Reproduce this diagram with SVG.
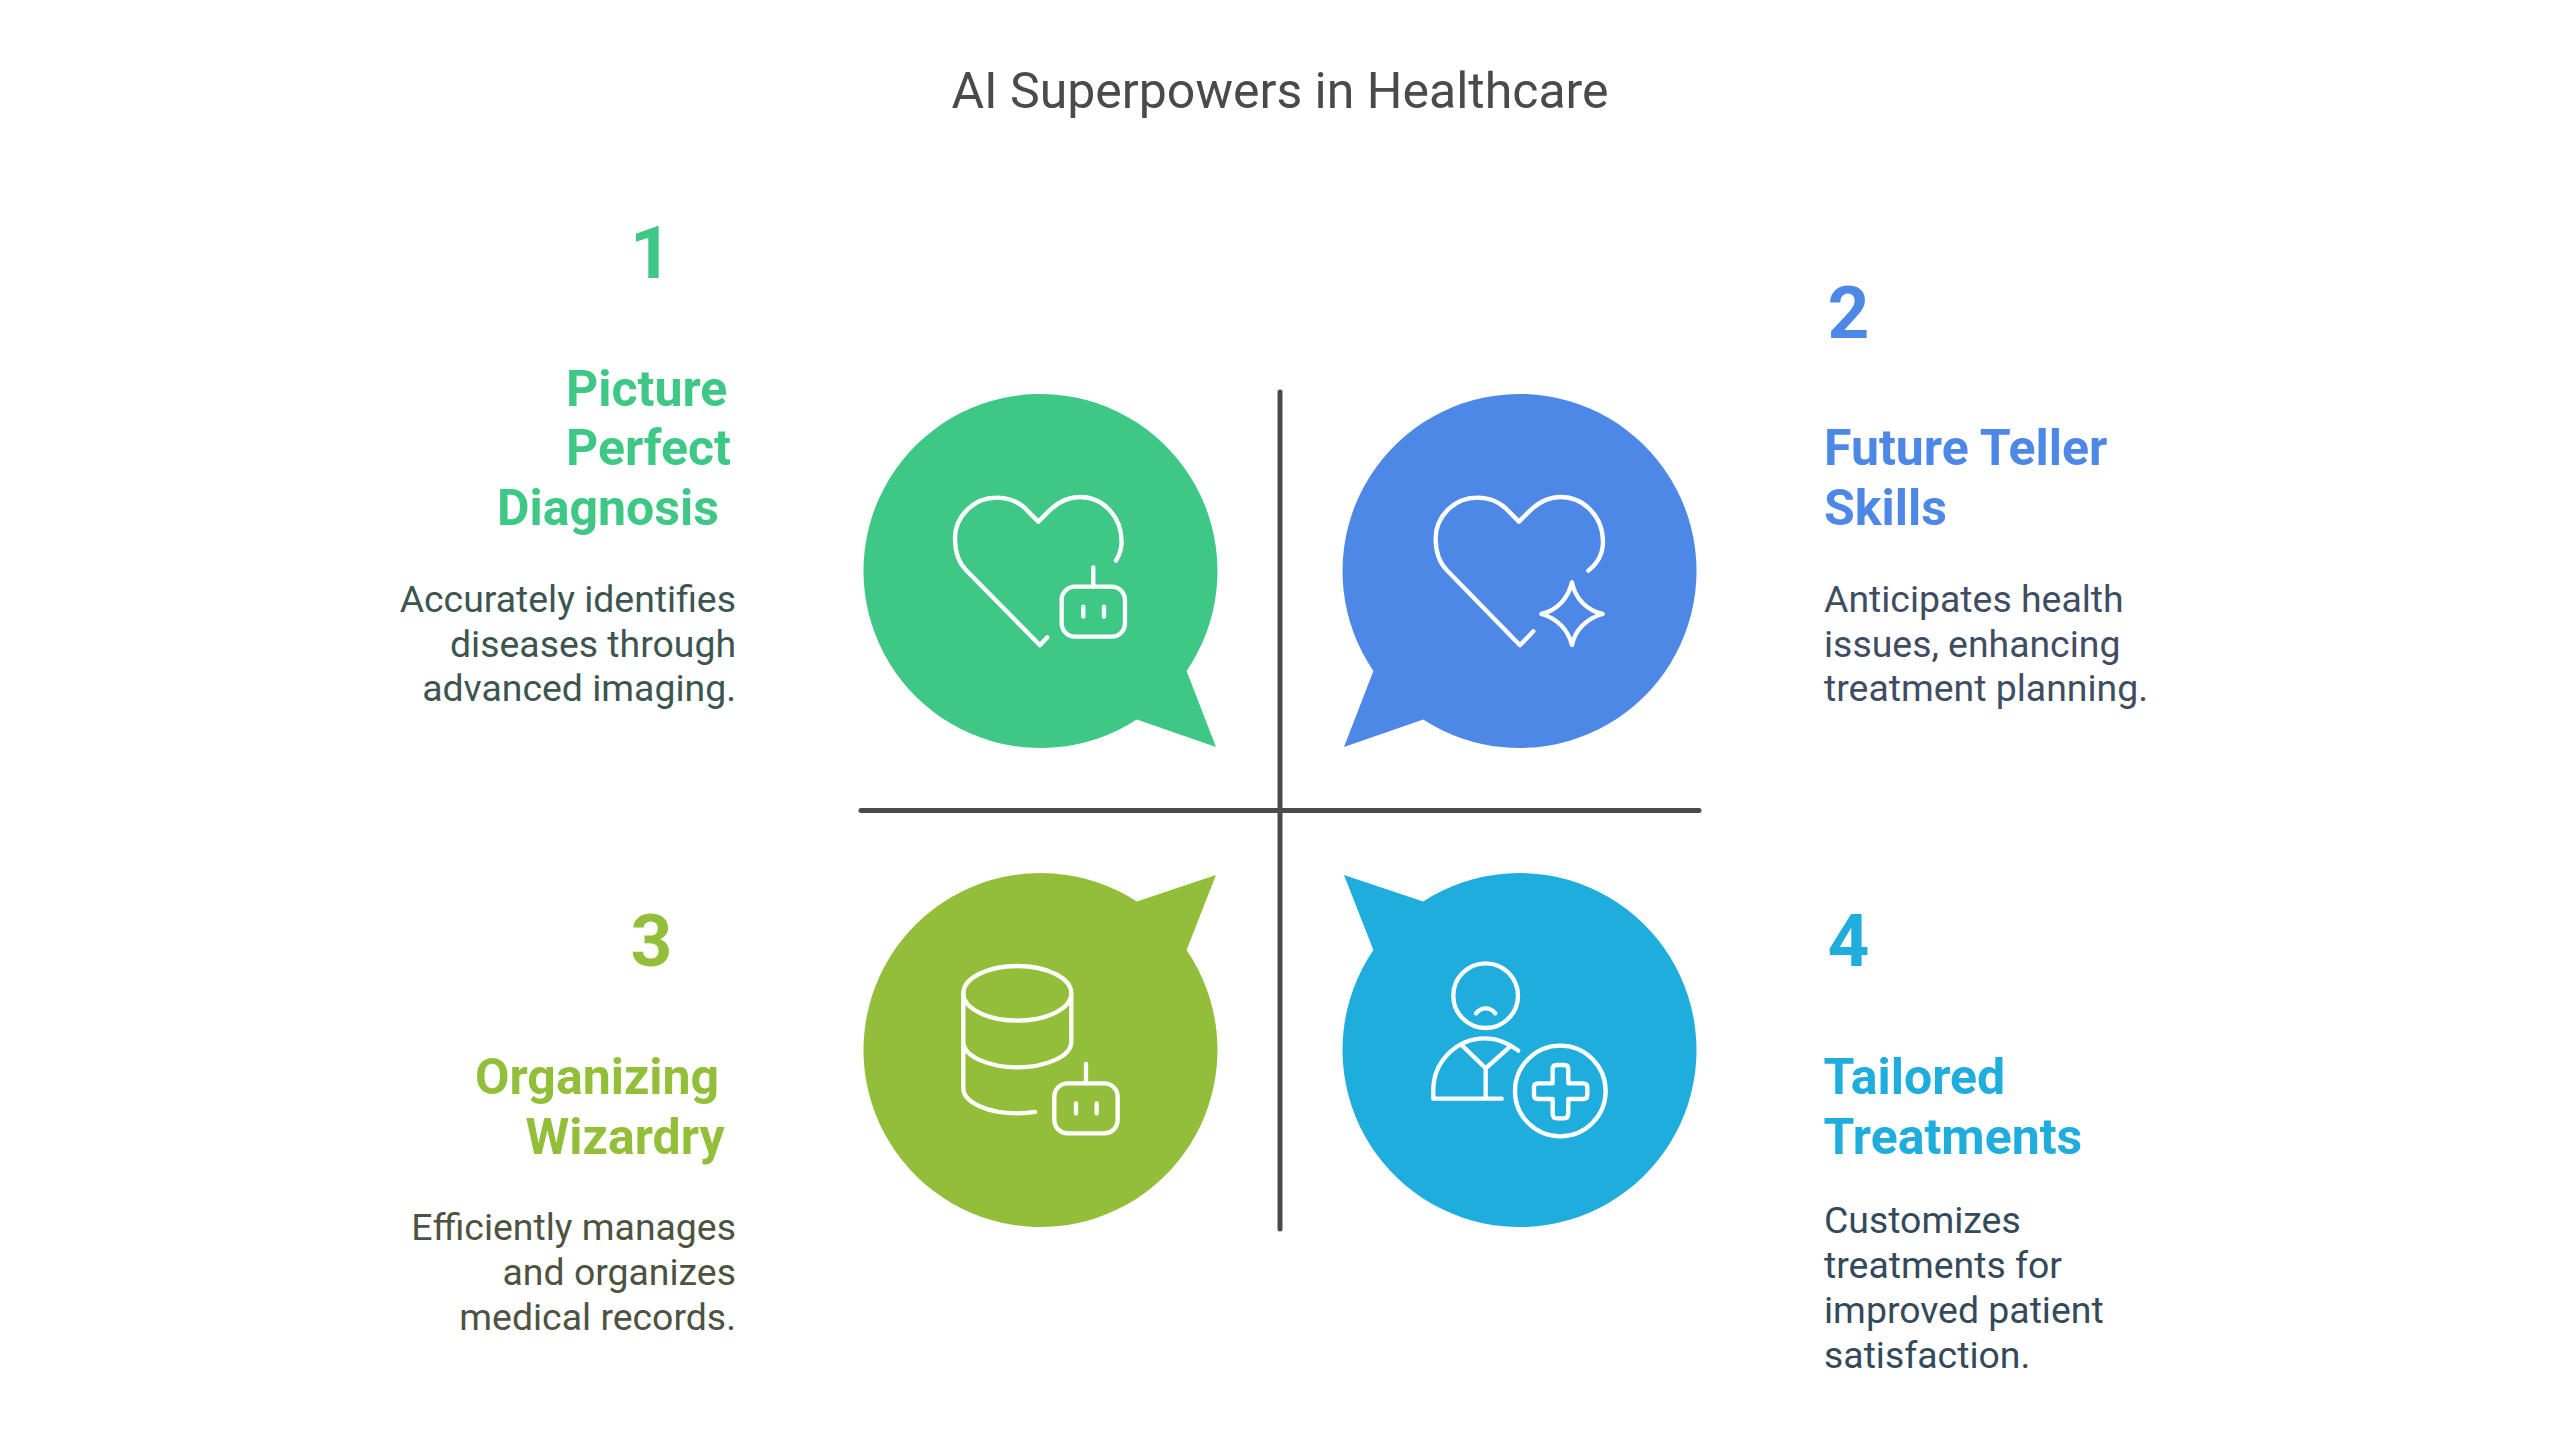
<svg xmlns="http://www.w3.org/2000/svg" xmlns:xlink="http://www.w3.org/1999/xlink" width="2560" height="1442" viewBox="0 0 2560 1442">
<style>
text{font-family:Roboto,"Liberation Sans",sans-serif}
.title{font-size:50px;fill:#4a4a4a;text-anchor:middle}
.num{font-size:73px;font-weight:700}
.head{font-size:50px;font-weight:700}
.body{font-size:37.400px}
.end{text-anchor:end}
.ic{fill:none;stroke:#fff;stroke-width:13;stroke-linecap:round;stroke-linejoin:round}
.axis{stroke:#4a4a4a;stroke-width:5;stroke-linecap:round}
.g{fill:#3fc786}.b{fill:#4e88e7}.l{fill:#93be3a}.c{fill:#1fadde}
</style>
<defs>
<g id="robot"><rect x="0" y="0" width="190" height="150" rx="40"/><path d="M95 -58V0M65 60V90M127 60V90"/></g>
</defs>
<rect width="2560" height="1442" fill="#fff"/>
<text class="title" x="1280" y="108">AI Superpowers in Healthcare</text>
<g id="axes">
<line class="axis" x1="1280" y1="392" x2="1280" y2="1229"/>
<line class="axis" x1="861" y1="810.5" x2="1699" y2="810.5"/>
</g>
<g id="node-1">
<path class="g" d="M1186.600 670.900A177 177 0 1 0 1136.800 719.500L1216 747Z"/>
<g class="ic" transform="translate(840 370) scale(.3333)">
<path d="M622 802L600 826L378 600C358 580 345 545 345 505C345 440 400 383 470 383C510 383 545 400 565 425L595 455L625 425C650 400 680 381 720 381C790 381 845 440 845 515C845 535 838 555 828 572"/>
<use xlink:href="#robot" href="#robot" x="665" y="650"/>
</g>
<text class="num g" x="630" y="278">1</text>
<text class="head g" x="566" y="405.500">Picture</text>
<text class="head g" x="566" y="464.500">Perfect</text>
<text class="head g" x="497" y="524.500">Diagnosis</text>
<g class="body end" fill="#3d5550">
<text x="736" y="611.500">Accurately identifies</text>
<text x="736" y="656.500">diseases through</text>
<text x="736" y="701">advanced imaging.</text>
</g>
</g>
<g id="node-2">
<path class="b" d="M1373.400 670.900A177 177 0 1 1 1423.200 719.500L1344 747Z"/>
<g class="ic" transform="translate(1320 370) scale(.3333)">
<path d="M640 784L600 826L380 600C358 578 347 545 347 505C347 440 402 383 472 383C512 383 545 400 567 425L597 455L627 425C652 400 682 381 722 381C792 381 849 440 849 515C849 545 835 578 805 602"/>
<path d="M756 637C765 685 800 720 848 732C800 745 765 780 756 825C745 780 712 745 664 732C712 720 745 685 756 637Z"/>
</g>
<text class="num b" x="1827.500" y="338">2</text>
<text class="head b" x="1824" y="464.500">Future Teller</text>
<text class="head b" x="1824" y="524.500">Skills</text>
<g class="body" fill="#3f4d63">
<text x="1824" y="611.500">Anticipates health</text>
<text x="1824" y="656.500">issues, enhancing</text>
<text x="1824" y="701">treatment planning.</text>
</g>
</g>
<g id="node-3">
<path class="l" d="M1186.600 950.100A177 177 0 1 1 1136.800 901.500L1216 875Z"/>
<g class="ic" transform="translate(840 860) scale(.3333)">
<ellipse cx="532" cy="400" rx="162" ry="82"/>
<path d="M694 400V545C694 590 615 622 532 622C450 622 370 590 370 545M370 400V685C370 730 450 760 532 760C550 760 568 759 585 756"/>
<use xlink:href="#robot" href="#robot" x="643" y="670"/>
</g>
<text class="num l" x="630.500" y="966">3</text>
<text class="head l" x="475" y="1093.500">Organizing</text>
<text class="head l" x="525.500" y="1154">Wizardry</text>
<g class="body end" fill="#4d5340">
<text x="736" y="1240">Efficiently manages</text>
<text x="736" y="1284.500">and organizes</text>
<text x="736" y="1329.500">medical records.</text>
</g>
</g>
<g id="node-4">
<path class="c" d="M1373.400 950.100A177 177 0 1 0 1423.200 901.500L1344 875Z"/>
<g class="ic" transform="translate(1320 860) scale(.3333)">
<circle cx="497" cy="407" r="97"/>
<path d="M468 460C485 440 510 440 526 460"/>
<path d="M595 572C565 548 530 535 495 535C410 535 340 605 340 690V716H545M428 558L497 625L570 560M497 625V716"/>
<circle cx="721" cy="693" r="136"/>
<path d="M710 615H733Q745 615 745 627V670H790Q802 670 802 682V705Q802 717 790 717H745V760Q745 775 733 775H710Q698 775 698 760V717H654Q642 717 642 705V682Q642 670 654 670H698V627Q698 615 710 615Z"/>
</g>
<text class="num c" x="1827.500" y="966">4</text>
<text class="head c" x="1823.500" y="1093.500">Tailored</text>
<text class="head c" x="1823.500" y="1153.500">Treatments</text>
<g class="body" fill="#34495a">
<text x="1824" y="1232.500">Customizes</text>
<text x="1824" y="1277.500">treatments for</text>
<text x="1824" y="1323">improved patient</text>
<text x="1824" y="1367.500">satisfaction.</text>
</g>
</g>
</svg>
